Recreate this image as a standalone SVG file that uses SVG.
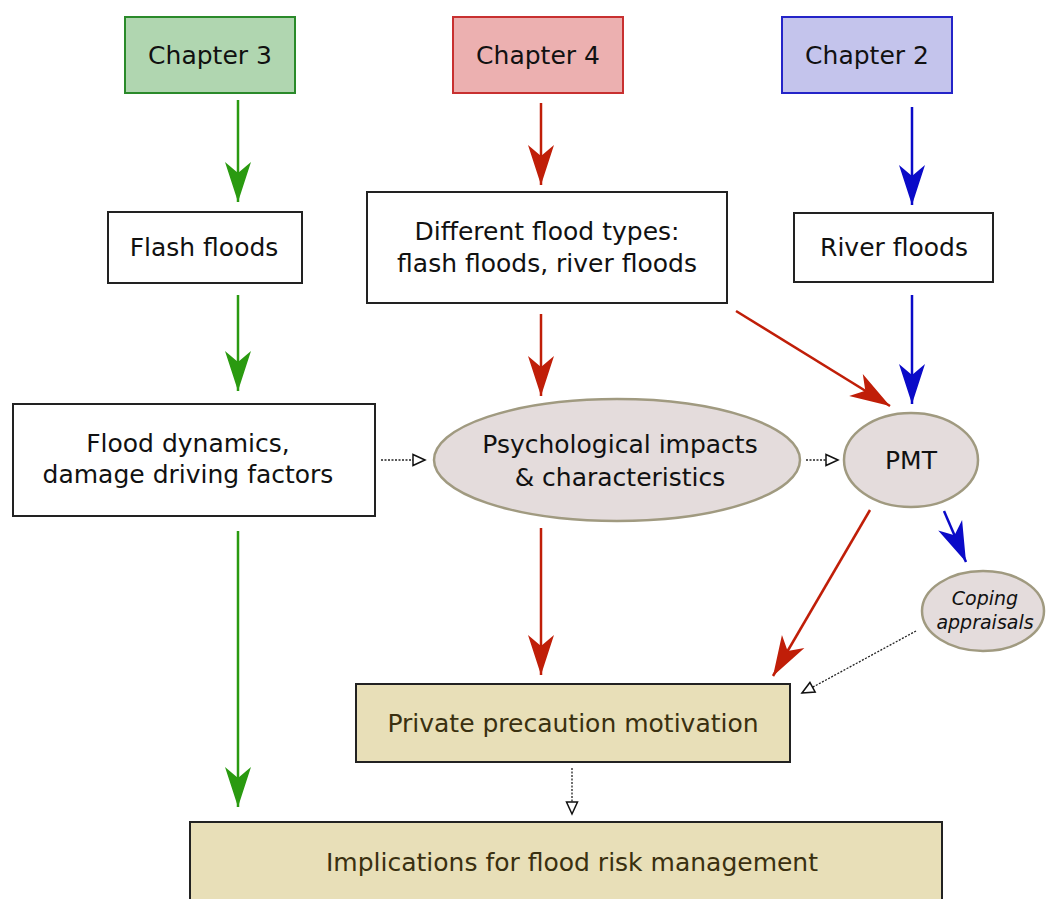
<svg xmlns="http://www.w3.org/2000/svg" width="1060" height="899" viewBox="0 0 1060 899">
<style>
text{font-family:"DejaVu Sans","Liberation Sans",sans-serif;font-size:25px;fill:#111;text-anchor:middle;dominant-baseline:central}
.box{fill:#fff;stroke:#222;stroke-width:2}
.ell{fill:#e4dcdc;stroke:#a09a80;stroke-width:2.5}
.tan{fill:#e8dfb8;stroke:#222;stroke-width:2}
.g{stroke:#2a9a10;stroke-width:2.5;fill:none}
.r{stroke:#c01e08;stroke-width:2.5;fill:none}
.b{stroke:#0a0ac8;stroke-width:2.5;fill:none}
.d{stroke:#222;stroke-width:1.3;stroke-dasharray:2,1.5;fill:none}
</style>
<defs>
<marker id="ag" markerUnits="userSpaceOnUse" markerWidth="44" markerHeight="30" refX="42" refY="14" orient="auto" overflow="visible"><path d="M42,14 L2,1 L13,14 L2,27 Z" fill="#2a9a10"/></marker>
<marker id="ar" markerUnits="userSpaceOnUse" markerWidth="44" markerHeight="30" refX="42" refY="14" orient="auto" overflow="visible"><path d="M42,14 L2,1 L13,14 L2,27 Z" fill="#c01e08"/></marker>
<marker id="ab" markerUnits="userSpaceOnUse" markerWidth="44" markerHeight="30" refX="42" refY="14" orient="auto" overflow="visible"><path d="M42,14 L2,1 L13,14 L2,27 Z" fill="#0a0ac8"/></marker>
<marker id="ao" markerUnits="userSpaceOnUse" markerWidth="16" markerHeight="14" refX="14" refY="7" orient="auto" overflow="visible"><path d="M14,7 L2,1.5 L2,12.5 Z" fill="#fff" stroke="#111" stroke-width="1.5"/></marker>
</defs>
<rect width="1060" height="899" fill="#fff"/>
<g id="connectors">
<line class="g" x1="238" y1="100" x2="238" y2="202" marker-end="url(#ag)"/>
<line class="g" x1="238" y1="295" x2="238" y2="391" marker-end="url(#ag)"/>
<line class="g" x1="238" y1="531" x2="238" y2="807" marker-end="url(#ag)"/>
<line class="r" x1="541" y1="103" x2="541" y2="185" marker-end="url(#ar)"/>
<line class="r" x1="541" y1="314" x2="541" y2="396" marker-end="url(#ar)"/>
<line class="r" x1="736" y1="311" x2="890" y2="406" marker-end="url(#ar)"/>
<line class="r" x1="541" y1="528" x2="541" y2="675" marker-end="url(#ar)"/>
<line class="r" x1="870" y1="510" x2="773" y2="676" marker-end="url(#ar)"/>
<line class="b" x1="912" y1="107" x2="912" y2="205" marker-end="url(#ab)"/>
<line class="b" x1="912" y1="295" x2="912" y2="404" marker-end="url(#ab)"/>
<line class="b" x1="944" y1="511" x2="966" y2="562" marker-end="url(#ab)"/>
<line class="d" x1="381" y1="460" x2="425" y2="460" marker-end="url(#ao)"/>
<line class="d" x1="806" y1="460" x2="838" y2="460" marker-end="url(#ao)"/>
<line class="d" x1="916" y1="631" x2="802" y2="693" marker-end="url(#ao)"/>
<line class="d" x1="572" y1="768" x2="572" y2="814" marker-end="url(#ao)"/>
</g>
<g id="chapter3"><rect x="125" y="17" width="170" height="76" fill="#b0d6b0" stroke="#2a8a2a" stroke-width="2"/><text x="210" y="55">Chapter 3</text></g>
<g id="chapter4"><rect x="453" y="17" width="170" height="76" fill="#ecb0b0" stroke="#c83030" stroke-width="2"/><text x="538" y="55">Chapter 4</text></g>
<g id="chapter2"><rect x="782" y="17" width="170" height="76" fill="#c4c4ec" stroke="#2424c8" stroke-width="2"/><text x="867" y="55">Chapter 2</text></g>
<g id="flashfloods"><rect class="box" x="108" y="212" width="194" height="71"/><text x="204" y="247">Flash floods</text></g>
<g id="floodtypes"><rect class="box" x="367" y="192" width="360" height="111"/><text x="547" y="231">Different flood types:</text><text x="547" y="263">flash floods, river floods</text></g>
<g id="riverfloods"><rect class="box" x="794" y="213" width="199" height="69"/><text x="894" y="247">River floods</text></g>
<g id="dynamics"><rect class="box" x="13" y="404" width="362" height="112"/><text x="188" y="443">Flood dynamics,</text><text x="188" y="474">damage driving factors</text></g>
<g id="psych"><ellipse class="ell" cx="617" cy="460" rx="183" ry="61"/><text x="620" y="444">Psychological impacts</text><text x="620" y="477">&amp; characteristics</text></g>
<g id="pmt"><ellipse class="ell" cx="911" cy="460" rx="67" ry="47"/><text x="911" y="460">PMT</text></g>
<g id="coping"><ellipse class="ell" cx="983" cy="611" rx="61" ry="40"/><text x="985" y="598" style="font-size:19px;font-style:italic">Coping</text><text x="985" y="622" style="font-size:19px;font-style:italic">appraisals</text></g>
<g id="precaution"><rect class="tan" x="356" y="684" width="434" height="78"/><text x="573" y="723" style="fill:#3a3010">Private precaution motivation</text></g>
<g id="implications"><rect class="tan" x="190" y="822" width="752" height="90"/><text x="572" y="862" style="fill:#3a3010">Implications for flood risk management</text></g>
</svg>
